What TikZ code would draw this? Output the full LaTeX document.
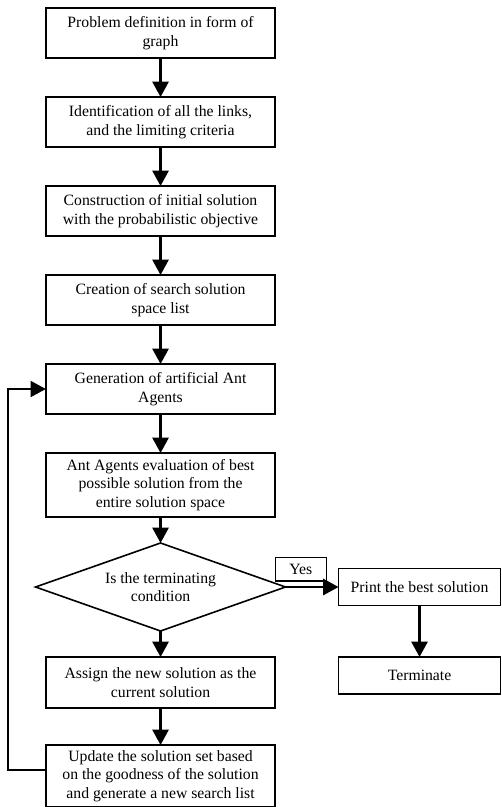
\documentclass[tikz,border=0pt]{standalone}
\usepackage{fontspec}
\setmainfont{Liberation Serif}
\usetikzlibrary{arrows.meta,shapes,positioning}
\newcommand{\boxfont}{\fontsize{11.8pt}{13.9pt}\selectfont}
\tikzset{
	process/.style={
		rectangle,
		draw,
		line width=1.2pt,
		minimum width=172pt,
		minimum height=37.5pt,
		inner sep=2pt,
		outer sep=0pt,
		align=center,
		font=\boxfont,
	},
	decision/.style={
		diamond,
		draw,
		aspect=2.84,
		line width=1.2pt,
		minimum width=187.5pt,
		minimum height=66pt,
		inner sep=0pt,
		outer sep=0pt,
		align=center,
		font=\boxfont,
	},
	endbox/.style={
		process,
		minimum width=121.5pt,
		minimum height=27.75pt,
	},
	yesbox/.style={
		rectangle,
		draw,
		line width=1pt,
		minimum width=38pt,
		minimum height=17.5pt,
		inner sep=1pt,
		font=\boxfont,
	},
	arc/.style={
		-{Triangle[length=11.5pt,width=12pt]},
		line width=2pt,
	},
	backarc/.style={
		arc,
		line width=1.5pt,
	},
}
\begin{document}
\begin{tikzpicture}[node distance=29.25pt]
	\useasboundingbox (0,0) rectangle (376.5pt,-605.25pt);

	\node [process] (b1) at (120.4pt,-24.75pt) {Problem definition in form of\\graph};
	\node [
	  process,
	  below=of b1
	] (b2) {Identification of all the links,\\and the limiting criteria};
	\node [
	  process,
	  below=of b2
	] (b3) {Construction of initial solution\\with the probabilistic objective};
	\node [
	  process,
	  below=of b3
	] (b4) {Creation of search solution\\space list};
	\node [
	  process,
	  below=of b4
	] (b5) {Generation of artificial Ant\\Agents};
	\node [
	  process,
	  below=of b5,
	  minimum height=48pt
	] (b6) {Ant Agents evaluation of best\\possible solution from the\\entire solution space};

	\node [
	  decision,
	  below=19.5pt of b6
	] (d1) {Is the terminating\\condition};

	\node [
	  process,
	  below=19.5pt of d1,
	  minimum height=38.25pt
	] (b7) {Assign the new solution as the\\current solution};
	\node [
	  process,
	  below=27.75pt of b7,
	  minimum height=46.5pt
	] (b8) {Update the solution set based\\on the goodness of the solution\\and generate a new search list};

	\node [
	  endbox,
	  right=39.75pt of d1
	] (pr) {Print the best solution};
	\node [
	  endbox,
	  below=38.6pt of pr
	] (te) {Terminate};

	\draw[arc] (b1) -- (b2);
	\draw[arc] (b2) -- (b3);
	\draw[arc] (b3) -- (b4);
	\draw[arc] (b4) -- (b5);
	\draw[arc] (b5) -- (b6);
	\draw[arc] (b6) -- (d1);
	\draw[arc] (d1) -- (b7);
	\draw[arc] (b7) -- (b8);
	\draw[arc] (d1.east) -- node[yesbox, above=4pt, pos=0.29] (yes) {Yes} (pr.west);
	\draw[arc] (pr) -- (te);

%	feedback to the ant generation step
	\draw[backarc] ([yshift=4.5pt]b8.west) -- ++(-28.5pt,0) |- (b5.west);
\end{tikzpicture}
\end{document}
